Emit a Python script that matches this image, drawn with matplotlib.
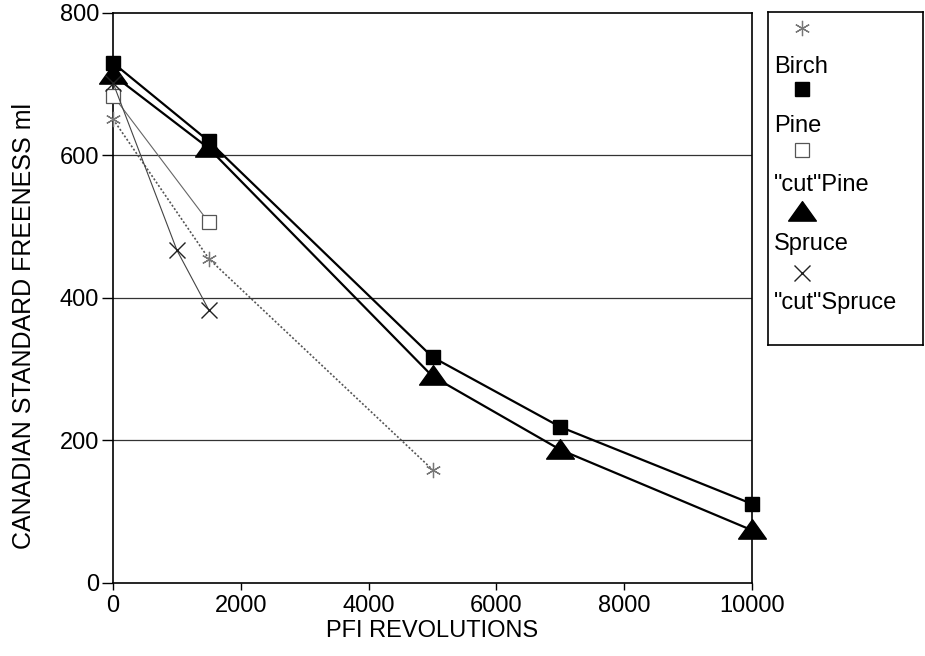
import numpy as np
import matplotlib
matplotlib.use('Agg')
import matplotlib.pyplot as plt
from matplotlib.path import Path

plt.rcParams['font.family'] = ['Liberation Sans', 'DejaVu Sans']

# freeness (ml CSF) against PFI revolutions
birch_x = [0, 1500, 5000]
birch_y = [651, 455, 159]
pine_x = [0, 1500, 5000, 7000, 10000]
pine_y = [730, 620, 317, 219, 111]
cut_pine_x = [0, 1500]
cut_pine_y = [684, 506]
spruce_x = [0, 1500, 5000, 7000, 10000]
spruce_y = [713, 610, 290, 187, 74]
cut_spruce_x = [0, 1000, 1500]
cut_spruce_y = [702, 467, 383]

labels = ['Birch', 'Pine', '"cut"Pine', 'Spruce', '"cut"Spruce']
x_ticks = [0, 2000, 4000, 6000, 8000, 10000]
y_ticks = [0, 200, 400, 600, 800]

# flat triangle marker
tri = Path([(-1.0, -0.62), (1.0, -0.62), (0.0, 0.78), (-1.0, -0.62)],
           [Path.MOVETO, Path.LINETO, Path.LINETO, Path.CLOSEPOLY])

styles = [
    dict(color='#555555', ls=(0, (1.2, 1.2)), lw=1.2, marker=(6, 2, 0), ms=11,
         mec='#777777', mew=0.9),
    dict(color='black', ls='-', lw=1.6, marker='s', ms=10, mfc='black', mec='black'),
    dict(color='#666666', ls='-', lw=0.8, marker='s', ms=10, mfc='white', mec='#555555', mew=0.9),
    dict(color='black', ls='-', lw=1.6, marker=tri, ms=20, mfc='black', mec='black'),
    dict(color='#444444', ls='-', lw=0.8, marker='x', ms=11, mec='#222222', mew=1.0),
]
series = [(birch_x, birch_y), (pine_x, pine_y), (cut_pine_x, cut_pine_y),
          (spruce_x, spruce_y), (cut_spruce_x, cut_spruce_y)]

fig = plt.figure(figsize=(9.25, 6.56), dpi=100)
ax = fig.add_axes([0.1222, 0.1113, 0.6908, 0.8689])

for (xs, ys), st in zip(series, styles):
    ax.plot(xs, ys, clip_on=False, zorder=3, **st)

ax.set_xlim(0, 10000)
ax.set_ylim(0, 800)
ax.set_xticks(x_ticks)
ax.set_yticks(y_ticks)
ax.tick_params(axis='both', labelsize=17, direction='out', width=1.0)
ax.tick_params(axis='y', length=8, pad=2)
ax.tick_params(axis='x', length=5, pad=4)
for y in y_ticks[1:-1]:
    ax.axhline(y, color='#333333', lw=0.9, zorder=1)
for sp in ax.spines.values():
    sp.set_linewidth(1.2)
ax.set_xlabel('PFI REVOLUTIONS', fontsize=17, labelpad=2)
ax.set_ylabel('CANADIAN STANDARD FREENESS ml', fontsize=18)
ax.yaxis.set_label_coords(-0.12, 0.45)

# legend box with marker above each label
lax = fig.add_axes([0.8303, 0.474, 0.168, 0.508])
lax.set_xlim(0, 1)
lax.set_ylim(0, 1)
lax.set_xticks([])
lax.set_yticks([])
for sp in lax.spines.values():
    sp.set_linewidth(1.2)
for i, (lab, st) in enumerate(zip(labels, styles)):
    mk = {k: v for k, v in st.items() if k not in ('ls', 'lw', 'color')}
    lax.plot([0.22], [0.952 - i * 0.184], ls='none', **mk)
    lax.text(0.04, 0.835 - i * 0.177, lab, fontsize=17, ha='left', va='center')

fig.savefig('out.png', dpi=100)
